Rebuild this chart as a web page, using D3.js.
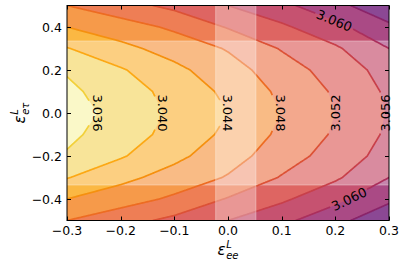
<!DOCTYPE html>
<html><head><meta charset="utf-8">
<script src="https://cdn.jsdelivr.net/npm/d3@7"></script>
<style>body{margin:0;background:#fff} svg{display:block}</style>
</head><body><svg id="c" width="407" height="271"></svg>
<script>
// ---- data ----
const xGrid = [-0.3, -0.2, -0.1, 0.0, 0.1, 0.2, 0.3];
const yGrid = [-0.5, -0.4, -0.3, -0.2, -0.1, 0.0, 0.1, 0.2, 0.3, 0.4, 0.5];
// rows follow yGrid (bottom to top), columns follow xGrid
const zRows = [
  [3.0480, 3.0505, 3.0530, 3.0560, 3.0590, 3.0628, 3.0670],
  [3.0440, 3.0462, 3.0487, 3.0523, 3.0553, 3.0589, 3.0632],
  [3.0398, 3.0429, 3.0456, 3.0483, 3.0523, 3.0554, 3.0600],
  [3.0364, 3.0396, 3.0430, 3.0464, 3.0500, 3.0538, 3.0575],
  [3.0351, 3.0381, 3.0413, 3.0449, 3.0488, 3.0525, 3.0567],
  [3.0342, 3.0374, 3.0407, 3.0440, 3.0481, 3.0520, 3.0563],
  [3.0351, 3.0381, 3.0413, 3.0449, 3.0488, 3.0525, 3.0567],
  [3.0364, 3.0396, 3.0430, 3.0464, 3.0500, 3.0538, 3.0575],
  [3.0398, 3.0429, 3.0456, 3.0483, 3.0523, 3.0554, 3.0600],
  [3.0440, 3.0462, 3.0487, 3.0523, 3.0553, 3.0589, 3.0632],
  [3.0480, 3.0505, 3.0530, 3.0560, 3.0590, 3.0628, 3.0670]
];
const levels = [3.036, 3.040, 3.044, 3.048, 3.052, 3.056, 3.060, 3.064];
const labelLevels = [3.036, 3.040, 3.044, 3.048, 3.052, 3.056, 3.060, 3.060];
const labelYs = [0, 0, 0, 0, 0, 0, 0.43, -0.40];
const xTicks = [-0.3, -0.2, -0.1, 0.0, 0.1, 0.2, 0.3];
const yTicks = [-0.4, -0.2, 0.0, 0.2, 0.4];
const bandX = [-0.023, 0.052];
const bandY = [-0.335, 0.335];

// ---- styles ----
const fillColors = ["#f8f5ad", "#f5d768", "#fbb843", "#f69a4a", "#ee7e55", "#de6562", "#c65270", "#aa4a85", "#8b4894"];
const lineColors = ["#f2d03a", "#fca814", "#f5900f", "#ed6c22", "#dc5236", "#c8404a", "#ab2f5c", "#8a2469"];
const FONT = "DejaVu Sans, sans-serif";

const svg = d3.select("#c");
const L = 67, R = 389, T = 5.5, B = 220.5;
const x = d3.scaleLinear().domain([-0.3, 0.3]).range([L, R]);
const y = d3.scaleLinear().domain([-0.5, 0.5]).range([B, T]);

const defs = svg.append("defs");
defs.append("clipPath").attr("id", "clip").append("rect")
  .attr("x", L).attr("y", T).attr("width", R - L).attr("height", B - T);

const nx = xGrid.length, ny = yGrid.length;
const values = zRows.flat();
const dxg = xGrid[1] - xGrid[0], dyg = yGrid[1] - yGrid[0];
const toPx = (cx, cy) => [x(xGrid[0] + (cx - 0.5) * dxg), y(yGrid[0] + (cy - 0.5) * dyg)];
const proj = d3.geoTransform({ point(cx, cy) { const p = toPx(cx, cy); this.stream.point(p[0], p[1]); } });
const geo = d3.geoPath(proj);
const contours = d3.contours().size([nx, ny]).thresholds(levels)(values);

const plot = svg.append("g").attr("clip-path", "url(#clip)");
plot.append("rect").attr("x", L).attr("y", T).attr("width", R - L).attr("height", B - T).attr("fill", fillColors[0]);
plot.append("g").selectAll("path").data(contours).join("path")
  .attr("d", geo).attr("fill", (d, i) => fillColors[i + 1]).attr("stroke", "none");

// horizontal white band (below lines)
plot.append("rect").attr("x", L - 2).attr("width", R - L + 4).attr("y", y(bandY[1])).attr("height", y(bandY[0]) - y(bandY[1]))
  .attr("fill", "#fff").attr("fill-opacity", 0.33).attr("stroke", "#fff").attr("stroke-opacity", 0.33).attr("stroke-width", 1);

// pixel rings of each contour
const ringsPx = contours.map(c => {
  const rs = [];
  c.coordinates.forEach(poly => poly.forEach(ring => rs.push(ring.map(p => toPx(p[0], p[1])))));
  return rs;
});

function crossX(k, py) {
  const out = [];
  ringsPx[k].forEach(ring => {
    for (let j = 0; j < ring.length - 1; j++) {
      const a = ring[j], b = ring[j + 1];
      if ((a[1] - py) * (b[1] - py) <= 0 && a[1] !== b[1]) {
        const t = (py - a[1]) / (b[1] - a[1]);
        const xx = a[0] + t * (b[0] - a[0]);
        if (xx > L + 0.5 && xx < R - 0.5) out.push(xx);
      }
    }
  });
  return out;
}

// label placement
const labels = [];
labelLevels.forEach((lv, i) => {
  const k = levels.indexOf(lv);
  const py = y(labelYs[i]);
  const xs0 = crossX(k, py);
  if (!xs0.length) return;
  const px = xs0[0];
  const a1 = crossX(k, py - 8), a2 = crossX(k, py + 8);
  let ang = -90;
  if (a1.length && a2.length) {
    const n1 = a1.reduce((m, v) => Math.abs(v - px) < Math.abs(m - px) ? v : m);
    const n2 = a2.reduce((m, v) => Math.abs(v - px) < Math.abs(m - px) ? v : m);
    ang = Math.atan2(16, n2 - n1) * 180 / Math.PI;
    if (ang > 75) ang -= 180;
    if (ang < -90) ang += 180;
  }
  labels.push({ lv, px, py, ang });
});

const meas = svg.append("text").attr("font-family", FONT).attr("font-size", 13).text("3.036");
const tw = meas.node().getComputedTextLength() || 37;
meas.remove();

function inLabel(p) {
  for (const l of labels) {
    const r = -l.ang * Math.PI / 180, c = Math.cos(r), s = Math.sin(r);
    const dx = p[0] - l.px, dy = p[1] - l.py;
    const u = dx * c - dy * s, v = dx * s + dy * c;
    if (Math.abs(u) < tw / 2 + 1.5 && Math.abs(v) < 8) return true;
  }
  return false;
}

// build line paths with gaps under labels
function linePath(k) {
  let d = "";
  ringsPx[k].forEach(ring => {
    let pen = false;
    for (let j = 0; j < ring.length - 1; j++) {
      const a = ring[j], b = ring[j + 1];
      const len = Math.hypot(b[0] - a[0], b[1] - a[1]);
      const n = Math.max(1, Math.ceil(len / 0.5));
      for (let s = (j === 0 ? 0 : 1); s <= n; s++) {
        const t = s / n;
        const p = [a[0] + t * (b[0] - a[0]), a[1] + t * (b[1] - a[1])];
        if (inLabel(p)) { pen = false; continue; }
        d += (pen ? "L" : "M") + p[0].toFixed(2) + "," + p[1].toFixed(2);
        pen = true;
      }
    }
  });
  return d;
}

plot.append("g").selectAll("path").data(levels).join("path")
  .attr("d", (v, k) => linePath(k)).attr("fill", "none")
  .attr("stroke", (v, k) => lineColors[k]).attr("stroke-width", 1.7)
  .attr("stroke-linejoin", "round");

// vertical white band (above lines)
plot.append("rect").attr("x", x(bandX[0])).attr("width", x(bandX[1]) - x(bandX[0])).attr("y", T - 2).attr("height", B - T + 4)
  .attr("fill", "#fff").attr("fill-opacity", 0.33).attr("stroke", "#fff").attr("stroke-opacity", 0.33).attr("stroke-width", 1);

// contour labels
svg.append("g").selectAll("text").data(labels).join("text")
  .attr("transform", d => `translate(${d.px},${d.py}) rotate(${d.ang})`)
  .attr("text-anchor", "middle").attr("dy", "0.36em")
  .attr("font-family", FONT).attr("font-size", 13).attr("fill", "#000")
  .text(d => d.lv.toFixed(3));

// axes
const fmt = v => (v < 0 ? "\u2212" : "") + Math.abs(v).toFixed(1);
const ax = svg.append("g").attr("font-family", FONT).attr("font-size", 12.5);
const tick = 4;
xTicks.forEach(v => {
  const px = Math.round(x(v)) + 0.5;
  ax.append("line").attr("x1", px).attr("x2", px).attr("y1", B).attr("y2", B - tick).attr("stroke", "#000");
  ax.append("line").attr("x1", px).attr("x2", px).attr("y1", T).attr("y2", T + tick).attr("stroke", "#000");
  ax.append("text").attr("x", x(v)).attr("y", B + 14.5).attr("text-anchor", "middle").text(fmt(v));
});
yTicks.forEach(v => {
  const py = Math.round(y(v)) + 0.5;
  ax.append("line").attr("x1", L).attr("x2", L + tick).attr("y1", py).attr("y2", py).attr("stroke", "#000");
  ax.append("line").attr("x1", R).attr("x2", R - tick).attr("y1", py).attr("y2", py).attr("stroke", "#000");
  ax.append("text").attr("x", L - 5).attr("y", y(v)).attr("dy", "0.36em").attr("text-anchor", "end").text(fmt(v));
});
svg.append("rect").attr("x", L).attr("y", T).attr("width", R - L).attr("height", B - T)
  .attr("fill", "none").attr("stroke", "#000").attr("stroke-width", 1);

// axis labels (epsilon with super/subscripts)
function epsLabel(g, sub) {
  const e = g.append("text").attr("font-family", FONT).attr("font-style", "italic").attr("font-size", 15)
    .attr("x", 0).attr("y", 0).text("\u03b5");
  const w = e.node().getComputedTextLength();
  g.append("text").attr("font-family", FONT).attr("font-style", "italic").attr("font-size", 10)
    .attr("x", w + 0.5).attr("y", -7.5).text("L");
  const s = g.append("text").attr("font-family", FONT).attr("font-style", "italic").attr("font-size", 10)
    .attr("x", w + 0.5).attr("y", 3.5).text(sub);
  const sw = s.node().getComputedTextLength();
  const total = w + 0.5 + sw;
  g.selectAll("text").attr("transform", `translate(${-total / 2},0)`);
}
epsLabel(svg.append("g").attr("transform", `translate(${(L + R) / 2},255)`), "ee");
epsLabel(svg.append("g").attr("transform", `translate(25,${(T + B) / 2}) rotate(-90)`), "e\u03c4");
</script></body></html>
